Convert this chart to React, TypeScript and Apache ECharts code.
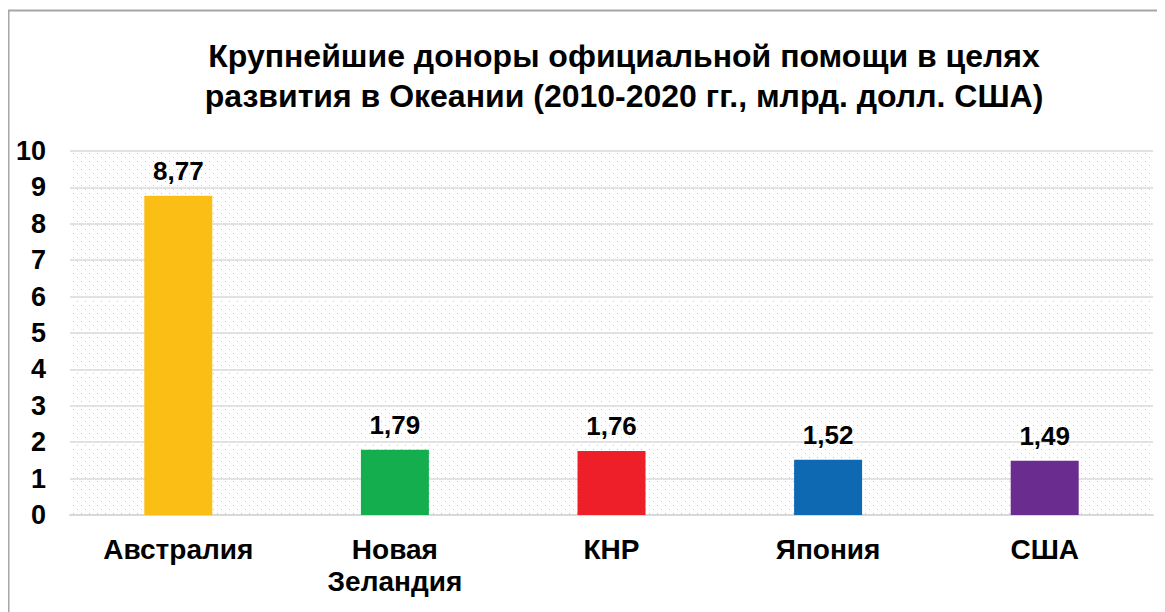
import React, { useEffect, useRef } from "react";
import * as echarts from "echarts";

const titleText = "Крупнейшие доноры официальной помощи в целях\nразвития в Океании (2010-2020 гг., млрд. долл. США)";
const categories = ["Австралия", "Новая\nЗеландия", "КНР", "Япония", "США"];
const values = [8.77, 1.79, 1.76, 1.52, 1.49];
const barColors = ["#FBBE14", "#14AE4F", "#EE1F29", "#0E68B2", "#6A2C8E"];

function makeDots(): string {
  const c = document.createElement("canvas");
  c.width = 8;
  c.height = 8;
  const ctx = c.getContext("2d")!;
  ctx.fillStyle = "#ffffff";
  ctx.fillRect(0, 0, 8, 8);
  ctx.fillStyle = "#c4c4c4";
  ctx.fillRect(1, 1, 1, 1);
  ctx.fillRect(5, 5, 1, 1);
  return c.toDataURL();
}

export default function App() {
  const ref = useRef<HTMLDivElement>(null);
  useEffect(() => {
    if (!ref.current) return;
    const chart = echarts.init(ref.current, undefined, { renderer: "svg" });
    const font = "'Liberation Sans', Arial, sans-serif";
    chart.setOption({
      animation: false,
      backgroundColor: "#ffffff",
      title: {
        text: titleText,
        left: 611,
        top: 23,
        textAlign: "center",
        textStyle: {
          fontFamily: font,
          fontWeight: "bold",
          fontSize: 32,
          lineHeight: 40,
          color: "#000",
        },
      },
      graphic: [
        {
          type: "rect",
          shape: { x: 0.5, y: 2.5, width: 1300, height: 800 },
          style: { fill: "none", stroke: "#a6a6a6", lineWidth: 2 },
          silent: true,
          z: 100,
        },
      ],
      grid: {
        left: 62,
        right: 12,
        top: 143,
        bottom: 97,
        show: true,
        borderWidth: 0,
        backgroundColor: { image: makeDots(), repeat: "repeat" } as any,
      },
      xAxis: {
        type: "category",
        data: categories,
        axisLine: { show: true, lineStyle: { color: "#d9d9d9", width: 2 } },
        axisTick: { show: false },
        axisLabel: {
          fontFamily: font,
          fontWeight: "bold",
          fontSize: 28,
          lineHeight: 32,
          color: "#000",
          margin: 18,
          interval: 0,
        },
      },
      yAxis: {
        type: "value",
        min: 0,
        max: 10,
        interval: 1,
        axisLine: { show: false },
        axisTick: { show: false },
        splitLine: { lineStyle: { color: "#d9d9d9", width: 1.5 } },
        axisLabel: {
          fontFamily: font,
          fontWeight: "bold",
          fontSize: 27,
          color: "#000",
          margin: 24,
        },
      },
      series: [
        {
          type: "bar",
          barWidth: 68,
          data: values.map((v, i) => ({ value: v, itemStyle: { color: barColors[i] } })),
          label: {
            show: true,
            position: "top",
            distance: 12,
            fontFamily: font,
            fontWeight: "bold",
            fontSize: 26,
            color: "#000",
            formatter: (p: any) => String(p.value.toFixed(2)).replace(".", ","),
          },
        },
      ],
    });
    return () => chart.dispose();
  }, []);
  return <div ref={ref} style={{ width: 1157, height: 604 }} />;
}
